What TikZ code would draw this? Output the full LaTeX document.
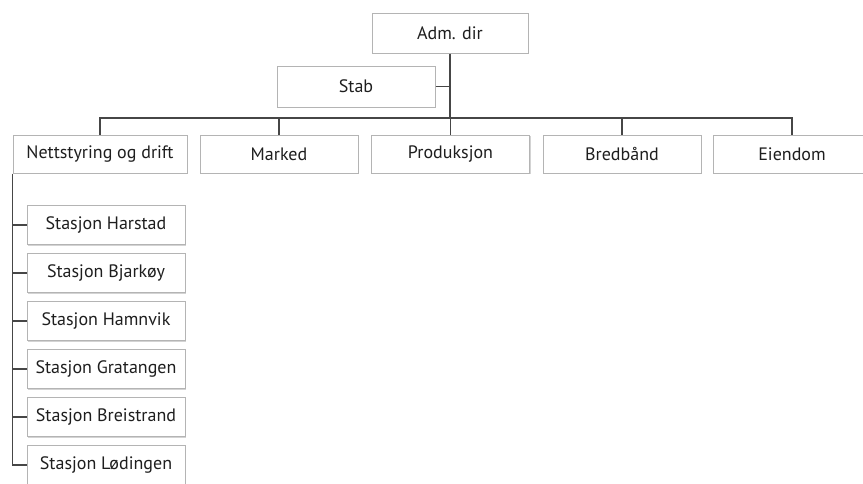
\documentclass[tikz,border=0pt]{standalone}
\usepackage{fontspec}
\setmainfont{PT Sans}
\usepackage{tikz}
\usetikzlibrary{shadows}
\definecolor{orgline}{RGB}{70,70,70}
\definecolor{orgedge}{RGB}{180,180,180}
\definecolor{orgtext}{RGB}{30,30,30}

\begin{document}
\begin{tikzpicture}[x=1pt, y=-1pt,
    unit/.style={draw=orgedge, fill=white, text=orgtext, line width=1pt,
      minimum width=158pt, minimum height=39pt, inner sep=0pt,
      font=\fontsize{18}{20}\selectfont,
      drop shadow={opacity=0.35, shadow xshift=1pt, shadow yshift=-1pt}},
    link/.style={draw=orgline, line width=1.2pt}]
  % Page size and crop
  \useasboundingbox (0,0) rectangle (863,483);
  \clip (0,0) rectangle (863,483);

  % Top of the chart
  \node[unit, minimum width=156pt, minimum height=40pt] (adm) at (450,33) {Adm. dir};
  \node[unit, minimum height=41pt] (stab) at (356,86.5) {Stab};

  % Departments
  \node[unit, minimum width=174pt, minimum height=38pt] (nett) at (100,154) {Nettstyring og drift};
  \node[unit, minimum height=38pt] (marked) at (279,154) {Marked};
  \node[unit, minimum height=38pt] (prod) at (450.5,154) {Produksjon};
  \node[unit, minimum height=38pt] (bred) at (622,154) {Bredbånd};
  \node[unit, minimum height=38pt] (eiendom) at (792,154) {Eiendom};

  % Stations under Nettstyring og drift
  \foreach \i/\name in {1/Harstad, 2/Bjarkøy, 3/Hamnvik, 4/Gratangen, 5/Breistrand, 6/Lødingen}
    \node[unit] (s\i) at (106,{177+48*\i}) {Stasjon \name};

  % Bus line
  \coordinate (bus) at (450,118);
  \path[link] (adm.south) -- (adm.south |- bus);
  \path[link] (stab.east) -- (stab.east -| adm.south);
  \path[link] (nett.north) |- (bus -| eiendom.north) -- (eiendom.north);
  \foreach \n in {marked, prod, bred}
    \path[link] (\n.north) -- (\n.north |- bus);

  % Station ticks
  \path[link] (nett.south west) |- (s6.west);
  \foreach \i in {1,...,5}
    \path[link] (s\i.west -| nett.south west) -- (s\i.west);
\end{tikzpicture}
\end{document}
